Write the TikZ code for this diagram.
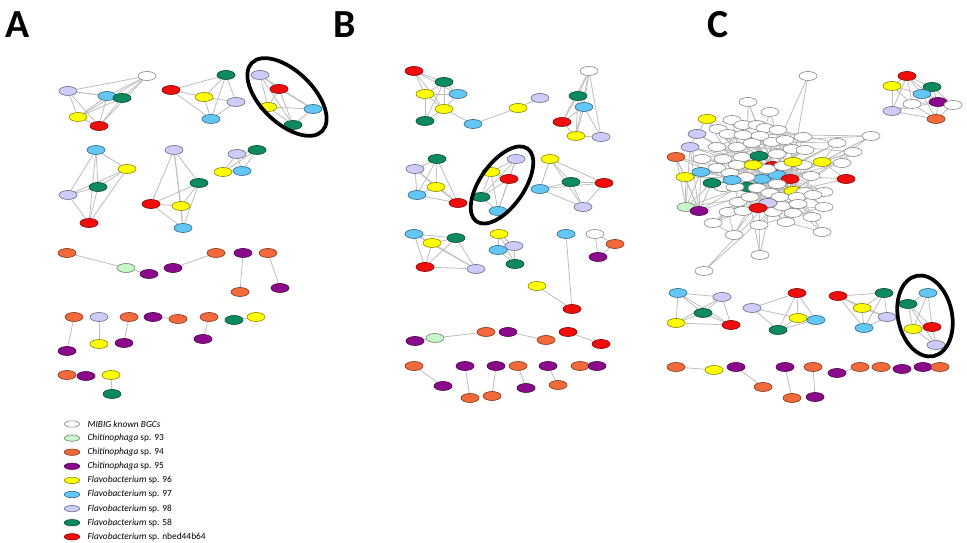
\documentclass[tikz,border=0pt]{standalone}
\usepackage{fontspec}
\setmainfont{Carlito}
\usetikzlibrary{positioning, shapes.geometric}
\definecolor{chi93}{HTML}{C9F5CB}
\definecolor{chi94}{HTML}{F26A3B}
\definecolor{chi95}{HTML}{8B0A8B}
\definecolor{fla96}{HTML}{FFFF00}
\definecolor{fla97}{HTML}{63C6F5}
\definecolor{fla98}{HTML}{CCCCF7}
\definecolor{fla58}{HTML}{0E8A5F}
\definecolor{flanb}{HTML}{F20D0D}
\definecolor{linkgray}{HTML}{BEBEBE}
\pgfdeclarelayer{links}
\pgfsetlayers{links,main}

\begin{document}
\begin{tikzpicture}[x=0.03cm, y=-0.03cm,
    bgc/.style={ellipse, fill=#1, draw=#1!55!black, line width=0.55pt,
      minimum width=0.54cm, minimum height=0.27cm, inner sep=0pt},
    link/.style={draw=linkgray, line width=0.7pt},
    ring/.style={ellipse, draw=black, line width=3.2pt, inner sep=0pt},
    panel/.style={font=\fontsize{34}{34}\selectfont\bfseries, inner sep=0pt},
    keysize/.style={minimum width=0.46cm, minimum height=0.19cm},
    keytext/.style={font=\fontsize{8}{9}\selectfont, inner sep=0pt}]
  \useasboundingbox (0,0) rectangle (967,543);

  % panel letters
  \node[panel] (labA) at (18,25) {A};
  \node[panel] (labB) at (345,25) {B};
  \node[panel] (labC) at (718,25) {C};

  % ---------- A ----------
  \node[bgc=white] (a1w) at (147,76) {};
  \node[bgc=fla98] (a1v) at (68,91) {};
  \node[bgc=fla97] (a1b) at (107,96) {};
  \node[bgc=fla58] (a1g) at (122,98) {};
  \node[bgc=fla96] (a1y) at (78,117) {};
  \node[bgc=flanb] (a1r) at (99,126) {};

  \node[bgc=flanb] (a2r) at (171,90) {};
  \node[bgc=fla58] (a2g) at (226,75) {};
  \node[bgc=fla96] (a2y) at (204,97) {};
  \node[bgc=fla98] (a2v) at (236,102) {};
  \node[bgc=fla97] (a2b) at (211,119) {};

  \node[bgc=fla98] (a3v) at (260,75) {};
  \node[bgc=flanb] (a3r) at (279,89) {};
  \node[bgc=fla96] (a3y) at (268,107) {};
  \node[bgc=fla97] (a3b) at (313,109) {};
  \node[bgc=fla58] (a3g) at (293,125) {};
  \node[ring, minimum width=2.94cm, minimum height=1.56cm, rotate=-44] (hlA) at (287,97) {};

  \node[bgc=fla97] (a4b) at (96,150) {};
  \node[bgc=fla96] (a4y) at (127,169) {};
  \node[bgc=fla58] (a4g) at (98,187) {};
  \node[bgc=fla98] (a4v) at (68,195) {};
  \node[bgc=flanb] (a4r) at (89,223) {};

  \node[bgc=fla98] (a5v) at (174,150) {};
  \node[bgc=fla58] (a5g) at (199,183) {};
  \node[bgc=flanb] (a5r) at (151,204) {};
  \node[bgc=fla96] (a5y) at (181,206) {};
  \node[bgc=fla97] (a5b) at (183,228) {};

  \node[bgc=fla98] (a6v) at (237,154) {};
  \node[bgc=fla58] (a6g) at (257,150) {};
  \node[bgc=fla96] (a6y) at (223,172) {};
  \node[bgc=fla97] (a6b) at (242,171) {};

  \node[bgc=chi94] (a7o) at (67,253) {};
  \node[bgc=chi93] (a7l) at (126,268) {};
  \node[bgc=chi95] (a7p) at (149,274) {};
  \node[bgc=chi95] (a8p) at (173,268) {};
  \node[bgc=chi94] (a8o) at (216,253) {};
  \node[bgc=chi95] (a9p) at (243,253) {};
  \node[bgc=chi94] (a9o) at (240,292) {};
  \node[bgc=chi94] (a10o) at (268,253) {};
  \node[bgc=chi95] (a10p) at (280,288) {};

  \node[bgc=chi94] (a11o) at (74,317) {};
  \node[bgc=chi95] (a11p) at (67,351) {};
  \node[bgc=fla98] (a12v) at (99,317) {};
  \node[bgc=fla96] (a12y) at (99,344) {};
  \node[bgc=chi94] (a13o) at (129,317) {};
  \node[bgc=chi95] (a13p) at (124,343) {};
  \node[bgc=chi95] (a14p) at (153,317) {};
  \node[bgc=chi94] (a14o) at (178,319) {};
  \node[bgc=chi94] (a15o) at (209,317) {};
  \node[bgc=chi95] (a15p) at (203,339) {};
  \node[bgc=fla58] (a16g) at (234,320) {};
  \node[bgc=fla96] (a16y) at (256,317) {};
  \node[bgc=chi94] (a17o) at (67,375) {};
  \node[bgc=chi95] (a17p) at (86,376) {};
  \node[bgc=fla96] (a18y) at (111,375) {};
  \node[bgc=fla58] (a18g) at (112,394) {};

  % legend
  \foreach \col/\txt [count=\k] in {white/{\textit{MIBIG known BGCs}},
      chi93/{\textit{Chitinophaga} sp. 93}, chi94/{\textit{Chitinophaga} sp. 94},
      chi95/{\textit{Chitinophaga} sp. 95}, fla96/{\textit{Flavobacterium} sp. 96},
      fla97/{\textit{Flavobacterium} sp. 97}, fla98/{\textit{Flavobacterium} sp. 98},
      fla58/{\textit{Flavobacterium} sp. 58}, flanb/{\textit{Flavobacterium} sp. nbed44b64}} {
    \node[bgc=\col, keysize] (key\k) at (72,{424+14.1*(\k-1)}) {};
    \node[keytext, right=0.22cm of key\k] (lab\k) {\txt};
  }

  % ---------- B ----------
  \node[bgc=flanb] (b1r) at (414,71) {};
  \node[bgc=fla58] (b1g) at (444,82) {};
  \node[bgc=fla96] (b1y) at (425,94) {};
  \node[bgc=fla97] (b1b) at (458,94) {};
  \node[bgc=fla96] (b1y2) at (444,109) {};
  \node[bgc=fla58] (b1g2) at (425,121) {};
  \node[bgc=fla97] (b1b2) at (473,124) {};
  \node[bgc=fla96] (b1y3) at (518,108) {};
  \node[bgc=fla98] (b1v) at (540,98) {};

  \node[bgc=white] (b2w) at (589,71) {};
  \node[bgc=fla58] (b2g) at (578,96) {};
  \node[bgc=fla97] (b2b) at (584,107) {};
  \node[bgc=flanb] (b2r) at (562,122) {};
  \node[bgc=fla96] (b2y) at (576,136) {};
  \node[bgc=fla98] (b2v) at (601,137) {};

  \node[bgc=fla58] (b3g) at (437,159) {};
  \node[bgc=fla98] (b3v) at (415,169) {};
  \node[bgc=fla96] (b3y) at (436,187) {};
  \node[bgc=fla97] (b3b) at (417,195) {};
  \node[bgc=flanb] (b3r) at (458,203) {};

  \node[bgc=fla98] (b4v) at (516,159) {};
  \node[bgc=fla96] (b4y) at (491,172) {};
  \node[bgc=flanb] (b4r) at (509,179) {};
  \node[bgc=fla58] (b4g) at (481,197) {};
  \node[bgc=fla97] (b4b) at (498,211) {};
  \node[ring, minimum width=2.67cm, minimum height=1.32cm, rotate=55] (hlB) at (502,185) {};

  \node[bgc=fla96] (b5y) at (550,159) {};
  \node[bgc=fla97] (b5b) at (540,189) {};
  \node[bgc=fla58] (b5g) at (571,182) {};
  \node[bgc=flanb] (b5r) at (604,183) {};
  \node[bgc=fla98] (b5v) at (583,207) {};

  \node[bgc=fla97] (b6b) at (414,234) {};
  \node[bgc=fla96] (b6y) at (432,243) {};
  \node[bgc=fla58] (b6g) at (456,238) {};
  \node[bgc=flanb] (b6r) at (425,267) {};
  \node[bgc=fla98] (b6v) at (476,269) {};

  \node[bgc=fla96] (b7y) at (499,234) {};
  \node[bgc=fla97] (b7b) at (498,250) {};
  \node[bgc=fla98] (b7v) at (514,246) {};
  \node[bgc=fla58] (b7g) at (515,264) {};

  \node[bgc=fla97] (b8b) at (566,234) {};
  \node[bgc=fla96] (b8y) at (537,286) {};
  \node[bgc=flanb] (b8r) at (572,309) {};
  \node[bgc=white] (b9w) at (595,234) {};
  \node[bgc=chi94] (b9o) at (615,244) {};
  \node[bgc=chi95] (b9p) at (598,257) {};

  \node[bgc=chi95] (b10p) at (415,341) {};
  \node[bgc=chi93] (b10l) at (435,338) {};
  \node[bgc=chi94] (b10o) at (486,332) {};
  \node[bgc=chi95] (b11p) at (508,332) {};
  \node[bgc=chi94] (b11o) at (546,340) {};
  \node[bgc=flanb] (b12r) at (568,332) {};
  \node[bgc=flanb] (b12r2) at (601,344) {};

  \node[bgc=chi94] (b13o) at (414,366) {};
  \node[bgc=chi95] (b13p) at (443,386) {};
  \node[bgc=chi95] (b14p) at (465,366) {};
  \node[bgc=chi94] (b14o) at (470,398) {};
  \node[bgc=chi95] (b15p) at (496,366) {};
  \node[bgc=chi94] (b15o) at (492,396) {};
  \node[bgc=chi94] (b16o) at (518,366) {};
  \node[bgc=chi95] (b16p) at (526,388) {};
  \node[bgc=chi95] (b17p) at (548,366) {};
  \node[bgc=chi94] (b17o) at (558,385) {};
  \node[bgc=chi94] (b18o) at (580,366) {};
  \node[bgc=chi95] (b18p) at (597,366) {};

  % ---------- C ----------
  % big cluster: hubs first
  \node[bgc=flanb, alias=hub0] (hr1) at (773,166) {};
  \node[bgc=fla97, alias=hub1] (hb3) at (762,179) {};
  \node[bgc=fla97, alias=hub2] (hb4) at (777,175) {};
  \node[bgc=flanb, alias=hub3] (hr3) at (790,179) {};
  \node[bgc=fla58, alias=hub4] (hg3) at (747,187) {};
  \node[bgc=fla96, alias=hub5] (hy6) at (793,191) {};
  \foreach \x/\y [count=\i] in {808/76, 748/102, 770/112, 732/120, 718/129, 743/125,
      757/125, 765/128, 778/130, 728/134, 743/135, 760/136, 803/137, 837/143, 871/136,
      717/147, 737/147, 752/143, 772/142, 785/140, 792/149, 805/150, 853/152, 702/159,
      723/159, 742/157, 777/154, 842/163, 717/168, 737/165, 767/169, 783/166, 803/165,
      730/173, 746/177, 811/176, 723/187, 735/187, 757/188, 777/184, 805/192, 824/192,
      738/202, 750/197, 770/193, 780/197, 797/197, 813/195, 728/212, 743/211, 773/212,
      782/206, 798/204, 824/207, 713/223, 786/222, 793/213, 812/217, 759/225, 734/235,
      822/232, 760/255, 704/271}
    \node[bgc=white] (cw\i) at (\x,\y) {};
  \node[bgc=fla96] (hy1) at (707,119) {};
  \node[bgc=fla98] (hv1) at (697,134) {};
  \node[bgc=fla98] (hv2) at (690,147) {};
  \node[bgc=chi94] (ho1) at (676,157) {};
  \node[bgc=fla97] (hb1) at (701,172) {};
  \node[bgc=fla96] (hy2) at (685,177) {};
  \node[bgc=fla58] (hg1) at (712,183) {};
  \node[bgc=chi93] (hl1) at (686,207) {};
  \node[bgc=chi95] (hp1) at (699,211) {};
  \node[bgc=fla58] (hg2) at (759,156) {};
  \node[bgc=fla96] (hy3) at (753,165) {};
  \node[bgc=fla96] (hy4) at (793,162) {};
  \node[bgc=fla96] (hy5) at (822,162) {};
  \node[bgc=flanb] (hr2) at (846,179) {};
  \node[bgc=fla97] (hb2) at (732,180) {};
  \node[bgc=fla98] (hv3) at (768,203) {};
  \node[bgc=flanb] (hr4) at (758,208) {};

  % top right cluster
  \node[bgc=flanb] (c1r) at (907,76) {};
  \node[bgc=fla96] (c1y) at (892,86) {};
  \node[bgc=fla58] (c1g) at (932,87) {};
  \node[bgc=fla97] (c1b) at (922,94) {};
  \node[bgc=white] (c1w) at (912,104) {};
  \node[bgc=chi95] (c1p) at (938,102) {};
  \node[bgc=white] (c1w2) at (953,105) {};
  \node[bgc=fla98] (c1v) at (892,111) {};
  \node[bgc=chi94] (c1o) at (936,119) {};

  \node[bgc=fla97] (c2b) at (678,293) {};
  \node[bgc=fla98] (c2v) at (722,297) {};
  \node[bgc=fla58] (c2g) at (703,313) {};
  \node[bgc=fla96] (c2y) at (676,323) {};
  \node[bgc=flanb] (c2r) at (731,325) {};

  \node[bgc=flanb] (c3r) at (797,293) {};
  \node[bgc=fla98] (c3v) at (752,308) {};
  \node[bgc=fla96] (c3y) at (798,318) {};
  \node[bgc=fla97] (c3b) at (816,320) {};
  \node[bgc=fla58] (c3g) at (778,330) {};

  \node[bgc=flanb] (c4r) at (838,296) {};
  \node[bgc=fla58] (c4g) at (884,293) {};
  \node[bgc=fla96] (c4y) at (862,308) {};
  \node[bgc=fla98] (c4v) at (887,317) {};
  \node[bgc=fla97] (c4b) at (864,328) {};

  \node[bgc=fla97] (c5b) at (928,293) {};
  \node[bgc=fla58] (c5g) at (908,304) {};
  \node[bgc=flanb] (c5r) at (932,327) {};
  \node[bgc=fla96] (c5y) at (913,329) {};
  \node[bgc=fla98] (c5v) at (936,345) {};
  \node[ring, minimum width=2.46cm, minimum height=1.62cm, rotate=102] (hlC) at (925,316) {};

  \node[bgc=chi94] (c6o) at (676,367) {};
  \node[bgc=fla96] (c6y) at (714,370) {};
  \node[bgc=chi95] (c7p) at (736,367) {};
  \node[bgc=chi94] (c7o) at (763,387) {};
  \node[bgc=chi95] (c8p) at (785,367) {};
  \node[bgc=chi94] (c8o) at (792,398) {};
  \node[bgc=chi94] (c9o) at (813,367) {};
  \node[bgc=chi95] (c9p) at (815,397) {};
  \node[bgc=chi95] (c10p) at (837,373) {};
  \node[bgc=chi94] (c10o) at (860,367) {};
  \node[bgc=chi94] (c11o) at (881,367) {};
  \node[bgc=chi95] (c11p) at (902,369) {};
  \node[bgc=chi95] (c12p) at (923,367) {};
  \node[bgc=chi94] (c12o) at (940,367) {};

  % links
  \begin{pgfonlayer}{links}
    \foreach \s/\t in {a1w/a1v, a1w/a1b, a1w/a1g, a1w/a1y, a1w/a1r, a1v/a1b, a1v/a1y,
        a1v/a1r, a1v/a1g, a1b/a1g, a1b/a1y, a1b/a1r, a1g/a1y, a1g/a1r, a1y/a1r,
        a2r/a2g, a2r/a2y, a2r/a2b, a2g/a2y, a2g/a2v, a2g/a2b, a2y/a2v, a2y/a2b, a2v/a2b,
        a3v/a3r, a3v/a3y, a3v/a3g, a3v/a3b, a3r/a3y, a3r/a3b, a3r/a3g, a3y/a3b, a3y/a3g, a3g/a3b,
        a4b/a4y, a4b/a4g, a4b/a4v, a4b/a4r, a4y/a4g, a4y/a4v, a4y/a4r, a4g/a4v, a4g/a4r, a4v/a4r,
        a5v/a5g, a5v/a5r, a5v/a5y, a5v/a5b, a5g/a5r, a5g/a5y, a5g/a5b, a5r/a5y, a5r/a5b, a5y/a5b,
        a6v/a6g, a6v/a6y, a6v/a6b, a6g/a6y, a6g/a6b, a6y/a6b,
        a7o/a7l, a7l/a7p, a8p/a8o, a9p/a9o, a10o/a10p, a11o/a11p, a12v/a12y,
        a13o/a13p, a14p/a14o, a15o/a15p, a16g/a16y, a17o/a17p, a18y/a18g}
      \draw[link] (\s) -- (\t);
    \foreach \s/\t in {b1r/b1g, b1r/b1y, b1r/b1y2, b1r/b1b, b1g/b1y, b1g/b1b, b1g/b1y2,
        b1g/b1g2, b1y/b1b, b1y/b1y2, b1y/b1g2, b1b/b1y2, b1y2/b1g2, b1y2/b1b2, b1b2/b1y3, b1y3/b1v,
        b2w/b2g, b2w/b2b, b2w/b2r, b2w/b2y, b2w/b2v, b2g/b2b, b2g/b2r, b2g/b2y, b2b/b2r,
        b2b/b2y, b2b/b2v, b2r/b2y, b2y/b2v,
        b3g/b3v, b3g/b3y, b3g/b3b, b3g/b3r, b3v/b3y, b3v/b3b, b3v/b3r, b3y/b3b, b3y/b3r, b3b/b3r,
        b4v/b4y, b4v/b4r, b4v/b4g, b4v/b4b, b4y/b4r, b4y/b4g, b4y/b4b, b4r/b4g, b4r/b4b, b4g/b4b,
        b5y/b5b, b5y/b5g, b5y/b5r, b5y/b5v, b5b/b5g, b5b/b5r, b5b/b5v, b5g/b5r, b5g/b5v, b5r/b5v,
        b6b/b6y, b6b/b6g, b6b/b6r, b6b/b6v, b6y/b6g, b6y/b6r, b6y/b6v, b6g/b6r, b6g/b6v, b6r/b6v,
        b7y/b7b, b7y/b7v, b7y/b7g, b7b/b7v, b7b/b7g, b7v/b7g,
        b8b/b8r, b8y/b8r, b9w/b9o, b9w/b9p, b9o/b9p, b10p/b10l, b10l/b10o, b11p/b11o,
        b12r/b12r2, b13o/b13p, b14p/b14o, b15p/b15o, b16o/b16p, b17p/b17o, b18o/b18p}
      \draw[link] (\s) -- (\t);
    % hairball
    \foreach \i in {1,...,63} {
      \pgfmathtruncatemacro{\ha}{mod(\i,6)}
      \pgfmathtruncatemacro{\hb}{mod(\i+2,6)}
      \draw[link] (cw\i) -- (hub\ha) (cw\i) -- (hub\hb);
    }
    \foreach \i in {2,...,56} {
      \pgfmathtruncatemacro{\j}{\i+5}
      \draw[link] (cw\i) -- (cw\j);
    }
    \foreach \s [count=\i] in {hy1, hv1, hv2, ho1, hb1, hy2, hg1, hl1, hp1, hg2, hy3,
        hy4, hy5, hr2, hb2, hv3, hr4} {
      \pgfmathtruncatemacro{\ha}{mod(\i,6)}
      \pgfmathtruncatemacro{\hb}{mod(\i+3,6)}
      \draw[link] (\s) -- (hub\ha) (\s) -- (hub\hb);
    }
    \foreach \s/\t in {hub0/hub1, hub0/hub2, hub0/hub3, hub1/hub2, hub1/hub4, hub2/hub3,
        hub2/hub5, hub3/hub5, hub4/hub5, hub1/hub3,
        ho1/hl1, ho1/hp1, hv2/hl1, hv2/hp1, hy2/hl1, hy2/hp1, hb1/hl1, hb1/hp1, hg1/hp1,
        hg1/hl1, hy2/ho1, hb1/hv2, hv1/hv2, hy1/hv1, hy5/cw14, hy5/cw15, hy5/cw23, hy5/cw28,
        hr2/hy5, cw62/cw59, cw61/cw58, cw60/cw49, cw55/cw49}
      \draw[link] (\s) -- (\t);
    \foreach \s/\t in {c1r/c1y, c1r/c1g, c1r/c1b, c1r/c1w, c1r/c1p, c1r/c1v, c1y/c1b,
        c1y/c1w, c1y/c1v, c1g/c1b, c1g/c1p, c1g/c1w2, c1b/c1w, c1b/c1p, c1b/c1o, c1w/c1v,
        c1w/c1p, c1w/c1o, c1p/c1w2, c1p/c1o, c1w2/c1o, c1v/c1p, c1v/c1o,
        c2b/c2v, c2b/c2g, c2b/c2y, c2b/c2r, c2v/c2g, c2v/c2y, c2v/c2r, c2g/c2y, c2g/c2r, c2y/c2r,
        c3r/c3v, c3r/c3y, c3r/c3b, c3r/c3g, c3v/c3y, c3v/c3g, c3y/c3b, c3y/c3g, c3b/c3g,
        c4r/c4g, c4r/c4y, c4r/c4v, c4r/c4b, c4g/c4y, c4g/c4v, c4g/c4b, c4y/c4v, c4y/c4b, c4v/c4b,
        c5b/c5g, c5b/c5r, c5b/c5y, c5g/c5r, c5g/c5y, c5g/c5v, c5r/c5y, c5r/c5v, c5y/c5v,
        c6o/c6y, c7p/c7o, c8p/c8o, c9o/c9p, c10p/c10o, c11o/c11p, c12p/c12o}
      \draw[link] (\s) -- (\t);
  \end{pgfonlayer}
\end{tikzpicture}
\end{document}
